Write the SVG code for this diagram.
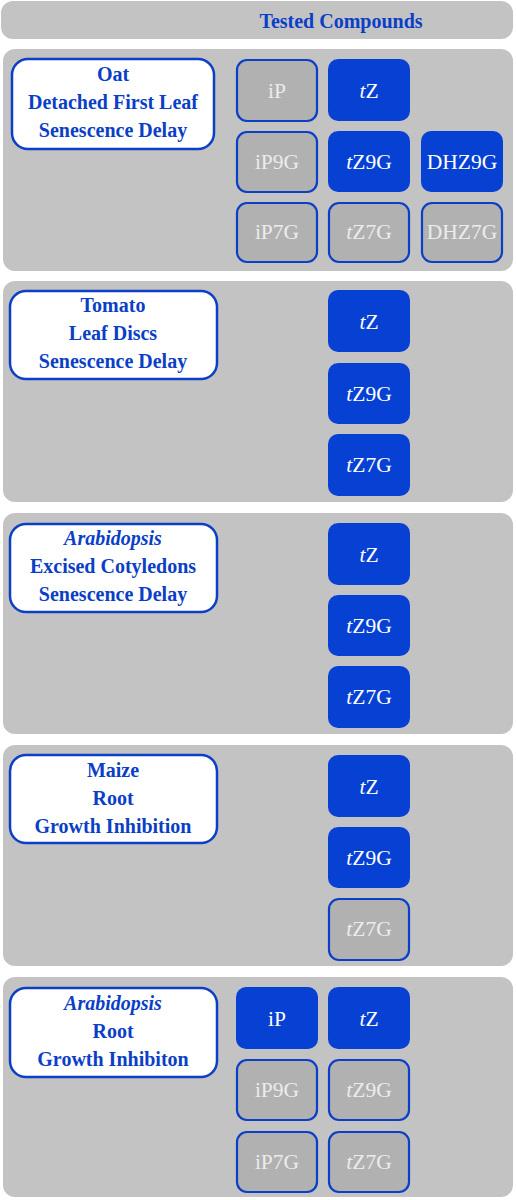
<svg xmlns="http://www.w3.org/2000/svg" width="516" height="1200" viewBox="0 0 516 1200">
<style>
.panel{fill:#c3c3c3}
.lbl{fill:#fff;stroke:#0b3fc6;stroke-width:2.5}
.lt{font-family:"Liberation Serif","DejaVu Serif",serif;font-weight:bold;font-size:20px;fill:#0b3fc6;text-anchor:middle}
.on{fill:#0741d4}
.off{fill:#b1b1b1;stroke:#0b3fc6;stroke-width:2.2}
.ct{font-family:"Liberation Serif","DejaVu Serif",serif;font-size:21.5px;text-anchor:middle}
.ton{fill:#ffffff}
.toff{fill:#ececec}
</style>
<rect width="516" height="1200" fill="#ffffff"/>
<g id="header">
<rect class="panel" x="1" y="1" width="512" height="38" rx="12"/>
<text class="lt" x="341" y="28" font-size="23">Tested Compounds</text>
</g>
<g id="panel1">
<rect class="panel" x="3" y="49" width="510" height="222" rx="12"/>
<rect class="lbl" x="12" y="59" width="202" height="90" rx="16"/>
<text class="lt" x="113" y="81">Oat</text>
<text class="lt" x="113" y="109">Detached First Leaf</text>
<text class="lt" x="113" y="137">Senescence Delay</text>
</g>
<g id="p1-iP"><rect class="off" x="237" y="60" width="80" height="61" rx="10"/><text class="ct toff" x="277" y="98">iP</text></g>
<g id="p1-tZ"><rect class="on" x="328" y="59" width="82" height="62" rx="10"/><text class="ct ton" x="369" y="98"><tspan font-style="italic">t</tspan>Z</text></g>
<g id="p1-iP9G"><rect class="off" x="237" y="132" width="80" height="60" rx="10"/><text class="ct toff" x="277" y="169">iP9G</text></g>
<g id="p1-tZ9G"><rect class="on" x="328" y="131" width="82" height="61" rx="10"/><text class="ct ton" x="369" y="169"><tspan font-style="italic">t</tspan>Z9G</text></g>
<g id="p1-DHZ9G"><rect class="on" x="421" y="131" width="82" height="61" rx="10"/><text class="ct ton" x="462" y="169">DHZ9G</text></g>
<g id="p1-iP7G"><rect class="off" x="237" y="203" width="80" height="59" rx="10"/><text class="ct toff" x="277" y="239">iP7G</text></g>
<g id="p1-tZ7G"><rect class="off" x="329" y="203" width="80" height="59" rx="10"/><text class="ct toff" x="369" y="239"><tspan font-style="italic">t</tspan>Z7G</text></g>
<g id="p1-DHZ7G"><rect class="off" x="422" y="203" width="80" height="59" rx="10"/><text class="ct toff" x="462" y="239">DHZ7G</text></g>

<g id="panel2">
<rect class="panel" x="3" y="281" width="510" height="221" rx="12"/>
<rect class="lbl" x="10" y="291" width="207" height="88" rx="16"/>
<text class="lt" x="113" y="312">Tomato</text>
<text class="lt" x="113" y="340">Leaf Discs</text>
<text class="lt" x="113" y="368">Senescence Delay</text>
</g>
<g id="p2-tZ"><rect class="on" x="328" y="290" width="82" height="62" rx="10"/><text class="ct ton" x="369" y="329"><tspan font-style="italic">t</tspan>Z</text></g>
<g id="p2-tZ9G"><rect class="on" x="328" y="363" width="82" height="61" rx="10"/><text class="ct ton" x="369" y="401"><tspan font-style="italic">t</tspan>Z9G</text></g>
<g id="p2-tZ7G"><rect class="on" x="328" y="434" width="82" height="62" rx="10"/><text class="ct ton" x="369" y="472"><tspan font-style="italic">t</tspan>Z7G</text></g>

<g id="panel3">
<rect class="panel" x="3" y="513" width="510" height="221" rx="12"/>
<rect class="lbl" x="10" y="524" width="207" height="88" rx="16"/>
<text class="lt" x="113" y="545" font-style="italic" font-weight="normal">Arabidopsis</text>
<text class="lt" x="113" y="573">Excised Cotyledons</text>
<text class="lt" x="113" y="601">Senescence Delay</text>
</g>
<g id="p3-tZ"><rect class="on" x="328" y="523" width="82" height="62" rx="10"/><text class="ct ton" x="369" y="562"><tspan font-style="italic">t</tspan>Z</text></g>
<g id="p3-tZ9G"><rect class="on" x="328" y="595" width="82" height="61" rx="10"/><text class="ct ton" x="369" y="633"><tspan font-style="italic">t</tspan>Z9G</text></g>
<g id="p3-tZ7G"><rect class="on" x="328" y="666" width="82" height="62" rx="10"/><text class="ct ton" x="369" y="704"><tspan font-style="italic">t</tspan>Z7G</text></g>

<g id="panel4">
<rect class="panel" x="3" y="745" width="510" height="221" rx="12"/>
<rect class="lbl" x="10" y="755" width="207" height="88" rx="16"/>
<text class="lt" x="113" y="777">Maize</text>
<text class="lt" x="113" y="805">Root</text>
<text class="lt" x="113" y="833">Growth Inhibition</text>
</g>
<g id="p4-tZ"><rect class="on" x="328" y="755" width="82" height="62" rx="10"/><text class="ct ton" x="369" y="794"><tspan font-style="italic">t</tspan>Z</text></g>
<g id="p4-tZ9G"><rect class="on" x="328" y="827" width="82" height="61" rx="10"/><text class="ct ton" x="369" y="865"><tspan font-style="italic">t</tspan>Z9G</text></g>
<g id="p4-tZ7G"><rect class="off" x="329" y="899" width="80" height="61" rx="10"/><text class="ct toff" x="369" y="936"><tspan font-style="italic">t</tspan>Z7G</text></g>

<g id="panel5">
<rect class="panel" x="3" y="977" width="510" height="220" rx="12"/>
<rect class="lbl" x="10" y="988" width="207" height="89" rx="16"/>
<text class="lt" x="113" y="1010" font-style="italic" font-weight="normal">Arabidopsis</text>
<text class="lt" x="113" y="1038">Root</text>
<text class="lt" x="113" y="1066">Growth Inhibiton</text>
</g>
<g id="p5-iP"><rect class="on" x="236" y="987" width="82" height="62" rx="10"/><text class="ct ton" x="277" y="1026">iP</text></g>
<g id="p5-tZ"><rect class="on" x="328" y="987" width="82" height="62" rx="10"/><text class="ct ton" x="369" y="1026"><tspan font-style="italic">t</tspan>Z</text></g>
<g id="p5-iP9G"><rect class="off" x="237" y="1060" width="80" height="60" rx="10"/><text class="ct toff" x="277" y="1097">iP9G</text></g>
<g id="p5-tZ9G"><rect class="off" x="329" y="1060" width="80" height="60" rx="10"/><text class="ct toff" x="369" y="1097"><tspan font-style="italic">t</tspan>Z9G</text></g>
<g id="p5-iP7G"><rect class="off" x="237" y="1132" width="80" height="60" rx="10"/><text class="ct toff" x="277" y="1169">iP7G</text></g>
<g id="p5-tZ7G"><rect class="off" x="329" y="1132" width="80" height="60" rx="10"/><text class="ct toff" x="369" y="1169"><tspan font-style="italic">t</tspan>Z7G</text></g>
</svg>
